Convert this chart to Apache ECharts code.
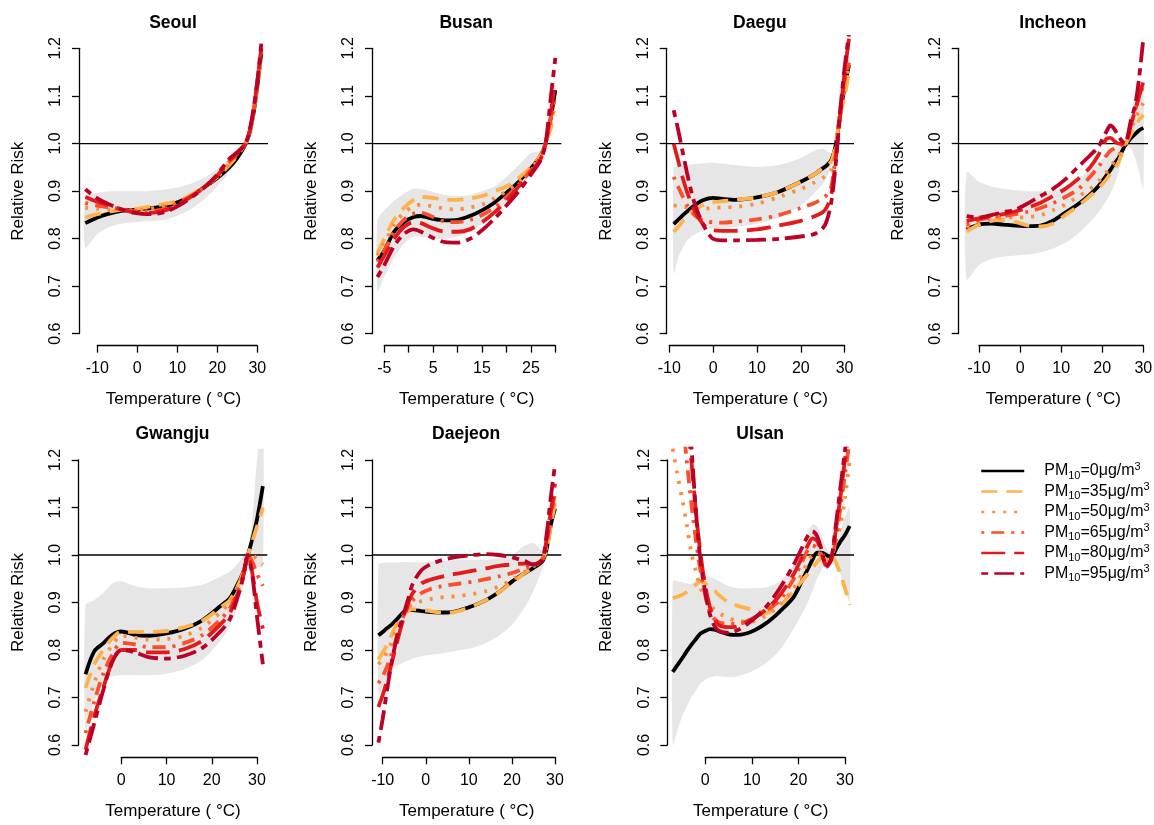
<!DOCTYPE html>
<html><head><meta charset="utf-8">
<script src="https://cdn.jsdelivr.net/npm/echarts@6/dist/echarts.min.js"></script>
<style>html,body{margin:0;padding:0;background:#fff}#c{width:1154px;height:825px}</style>
</head><body><div id="c"></div>
<script>
// ---------------- DATA ----------------
const cities = ['Seoul','Busan','Daegu','Incheon','Gwangju','Daejeon','Ulsan'];
const pmLevels = ['0','35','50','65','80','95'];
const referenceRR = 1;

const seoulTemp = [-13,-10,-7,-4,-1,2,5,8,11,14,17,20,23,25,27,28,29,30,31];
const seoulPM0  = [0.833,0.845,0.853,0.859,0.861,0.863,0.866,0.871,0.880,0.893,0.910,0.928,0.950,0.970,0.998,1.020,1.060,1.120,1.190];
const seoulPM35 = [0.845,0.852,0.857,0.861,0.862,0.866,0.871,0.875,0.882,0.895,0.912,0.930,0.955,0.975,1.000,1.020,1.060,1.120,1.190];
const seoulPM50 = [0.865,0.863,0.862,0.861,0.860,0.862,0.866,0.872,0.880,0.893,0.910,0.930,0.958,0.977,1.000,1.022,1.062,1.125,1.195];
const seoulPM65 = [0.875,0.870,0.866,0.862,0.858,0.858,0.860,0.866,0.878,0.893,0.910,0.932,0.962,0.978,1.000,1.022,1.065,1.128,1.200];
const seoulPM80 = [0.888,0.878,0.870,0.862,0.856,0.854,0.856,0.863,0.876,0.892,0.910,0.933,0.965,0.980,1.000,1.024,1.067,1.130,1.200];
const seoulPM95 = [0.904,0.885,0.872,0.862,0.855,0.852,0.853,0.860,0.873,0.890,0.910,0.935,0.968,0.982,1.000,1.025,1.070,1.130,1.210];
const seoulLow  = [0.782,0.810,0.825,0.832,0.835,0.837,0.838,0.842,0.852,0.866,0.885,0.910,0.940,0.965,0.998,1.015,1.050,1.110,1.180];
const seoulHigh = [0.890,0.897,0.900,0.900,0.900,0.900,0.902,0.905,0.910,0.918,0.930,0.948,0.968,0.982,1.002,1.025,1.070,1.130,1.210];

const busanTemp = [-6.4,-5,-3,-1,1,2.5,5,7.5,10,12.5,15,17.5,20,22.5,25,27,28,29,30];
const busanPM0  = [0.755,0.775,0.815,0.835,0.846,0.848,0.842,0.839,0.840,0.848,0.860,0.876,0.897,0.920,0.948,0.975,1.000,1.050,1.112];
const busanPM35 = [0.770,0.800,0.840,0.865,0.882,0.888,0.886,0.882,0.882,0.885,0.890,0.900,0.910,0.928,0.950,0.975,1.000,1.030,1.060];
const busanPM50 = [0.765,0.790,0.830,0.855,0.868,0.872,0.868,0.863,0.862,0.866,0.872,0.885,0.900,0.920,0.948,0.975,1.000,1.040,1.080];
const busanPM65 = [0.752,0.775,0.815,0.840,0.853,0.855,0.846,0.836,0.835,0.840,0.850,0.866,0.888,0.914,0.944,0.972,1.000,1.050,1.100];
const busanPM80 = [0.740,0.765,0.800,0.825,0.835,0.833,0.822,0.815,0.815,0.820,0.835,0.855,0.880,0.910,0.940,0.968,1.000,1.060,1.130];
const busanPM95 = [0.720,0.745,0.785,0.810,0.820,0.815,0.802,0.793,0.792,0.800,0.818,0.842,0.870,0.900,0.935,0.965,1.000,1.090,1.180];
const busanLow  = [0.690,0.720,0.760,0.790,0.805,0.805,0.800,0.800,0.805,0.815,0.830,0.850,0.875,0.905,0.935,0.962,0.995,1.040,1.090];
const busanHigh = [0.840,0.860,0.880,0.895,0.905,0.905,0.898,0.892,0.890,0.892,0.900,0.910,0.930,0.955,0.980,0.985,1.005,1.060,1.130];

const daeguTemp = [-9,-8,-7,-6,-5,-4,-3,-2,-1,0,2,5,10,15,20,23,25,26,27,28,29,30,31];
const daeguPM0  = [0.831,0.840,0.849,0.857,0.865,0.872,0.878,0.882,0.885,0.886,0.884,0.882,0.887,0.899,0.920,0.935,0.948,0.955,0.966,0.998,1.063,1.119,1.165];
const daeguPM35 = [0.815,0.825,0.837,0.848,0.856,0.863,0.868,0.872,0.875,0.877,0.879,0.882,0.887,0.899,0.920,0.935,0.948,0.955,0.963,1.000,1.060,1.100,1.150];
const daeguPM50 = [0.870,0.870,0.868,0.866,0.865,0.864,0.864,0.864,0.864,0.865,0.866,0.867,0.874,0.888,0.905,0.918,0.928,0.935,0.945,0.990,1.060,1.120,1.170];
const daeguPM65 = [0.930,0.910,0.890,0.872,0.858,0.848,0.842,0.838,0.836,0.835,0.834,0.836,0.841,0.850,0.865,0.875,0.885,0.893,0.910,0.980,1.070,1.130,1.170];
const daeguPM80 = [1.000,0.965,0.930,0.900,0.875,0.855,0.840,0.828,0.821,0.818,0.817,0.817,0.820,0.828,0.838,0.847,0.856,0.868,0.895,0.970,1.060,1.150,1.220];
const daeguPM95 = [1.070,1.030,0.985,0.940,0.900,0.868,0.845,0.825,0.810,0.800,0.797,0.797,0.798,0.800,0.805,0.810,0.822,0.840,0.880,0.960,1.070,1.160,1.230];
const daeguLow  = [0.727,0.760,0.780,0.795,0.805,0.810,0.815,0.818,0.820,0.822,0.823,0.825,0.832,0.845,0.870,0.895,0.915,0.930,0.955,0.995,1.050,1.090,1.130];
const daeguHigh = [0.950,0.952,0.953,0.955,0.956,0.957,0.958,0.959,0.960,0.960,0.958,0.955,0.951,0.955,0.970,0.985,0.990,0.985,0.980,1.005,1.070,1.140,1.200];

const incheonTemp = [-13,-10,-7,-4,-1,2,5,8,11,14,17,19,21,22,23,24,25.5,27,28,29,30];
const incheonPM0  = [0.820,0.830,0.832,0.830,0.828,0.827,0.828,0.838,0.855,0.872,0.893,0.910,0.933,0.945,0.958,0.970,0.995,1.012,1.020,1.028,1.033];
const incheonPM35 = [0.815,0.830,0.838,0.840,0.835,0.828,0.826,0.832,0.850,0.868,0.890,0.905,0.925,0.937,0.948,0.962,0.995,1.020,1.035,1.050,1.060];
const incheonPM50 = [0.825,0.836,0.842,0.845,0.845,0.846,0.850,0.860,0.872,0.888,0.905,0.920,0.940,0.952,0.963,0.975,0.998,1.030,1.050,1.070,1.085];
const incheonPM65 = [0.830,0.840,0.845,0.848,0.852,0.857,0.865,0.875,0.888,0.903,0.930,0.950,0.975,0.985,0.990,0.995,1.000,1.040,1.070,1.100,1.120];
const incheonPM80 = [0.838,0.843,0.848,0.852,0.858,0.866,0.876,0.890,0.905,0.925,0.950,0.975,1.010,1.012,1.005,1.000,1.000,1.040,1.070,1.100,1.130];
const incheonPM95 = [0.848,0.845,0.850,0.856,0.862,0.875,0.890,0.905,0.925,0.950,0.975,0.993,1.025,1.038,1.030,1.015,1.000,1.050,1.080,1.140,1.220];
const incheonLow  = [0.715,0.745,0.758,0.763,0.765,0.767,0.772,0.780,0.792,0.810,0.835,0.855,0.880,0.895,0.915,0.940,0.995,0.990,0.970,0.940,0.905];
const incheonHigh = [0.940,0.920,0.910,0.905,0.902,0.900,0.900,0.902,0.910,0.925,0.945,0.960,0.975,0.983,0.990,0.995,1.005,1.040,1.070,1.100,1.120];

const gwangjuTemp = [-7.9,-6,-4,-2,0,3,6,10,14,18,22,24,26,27,28,29,30,31.3];
const gwangjuPM0  = [0.749,0.797,0.814,0.832,0.839,0.832,0.830,0.835,0.845,0.863,0.893,0.909,0.944,0.965,1.000,1.035,1.075,1.145];
const gwangjuPM35 = [0.720,0.770,0.800,0.825,0.838,0.838,0.838,0.840,0.848,0.862,0.890,0.905,0.940,0.965,1.000,1.030,1.060,1.100];
const gwangjuPM50 = [0.670,0.730,0.780,0.810,0.830,0.826,0.822,0.823,0.830,0.848,0.880,0.900,0.940,0.965,1.000,1.000,0.990,0.980];
const gwangjuPM65 = [0.625,0.690,0.750,0.790,0.815,0.812,0.806,0.806,0.815,0.832,0.865,0.888,0.930,0.960,1.000,0.985,0.960,0.935];
const gwangjuPM80 = [0.590,0.660,0.720,0.775,0.800,0.800,0.795,0.795,0.802,0.820,0.855,0.878,0.925,0.957,1.000,0.960,0.900,0.845];
const gwangjuPM95 = [0.579,0.645,0.715,0.775,0.800,0.795,0.785,0.782,0.788,0.805,0.840,0.865,0.920,0.955,1.000,0.955,0.870,0.770];
const gwangjuLow  = [0.630,0.690,0.735,0.745,0.747,0.747,0.747,0.750,0.760,0.780,0.820,0.850,0.900,0.935,0.985,0.975,0.975,0.975];
const gwangjuHigh = [0.895,0.905,0.920,0.940,0.945,0.935,0.930,0.930,0.932,0.938,0.955,0.965,0.985,1.000,1.015,1.080,1.200,1.300];

const daejeonTemp = [-11,-10,-9,-8,-7,-6,-5,-4,-3,-1,1,3,5,8,11,14,17,20,23,25,27,28,29,30];
const daejeonPM0  = [0.831,0.838,0.846,0.853,0.862,0.872,0.881,0.884,0.884,0.882,0.880,0.879,0.879,0.884,0.893,0.905,0.922,0.944,0.962,0.973,0.986,1.010,1.063,1.098];
const daejeonPM35 = [0.780,0.795,0.810,0.830,0.850,0.865,0.876,0.883,0.886,0.884,0.882,0.879,0.878,0.883,0.893,0.905,0.922,0.942,0.962,0.975,0.990,1.010,1.060,1.110];
const daejeonPM50 = [0.770,0.780,0.795,0.815,0.840,0.862,0.878,0.890,0.897,0.903,0.907,0.910,0.912,0.914,0.918,0.924,0.934,0.948,0.965,0.976,0.990,1.015,1.070,1.120];
const daejeonPM65 = [0.730,0.745,0.765,0.790,0.820,0.850,0.875,0.893,0.905,0.920,0.928,0.933,0.936,0.940,0.944,0.949,0.955,0.962,0.972,0.978,0.990,1.020,1.080,1.130];
const daejeonPM80 = [0.680,0.705,0.735,0.770,0.805,0.840,0.872,0.900,0.920,0.940,0.948,0.953,0.957,0.962,0.967,0.972,0.977,0.980,0.982,0.980,0.990,1.030,1.090,1.150];
const daejeonPM95 = [0.605,0.655,0.715,0.770,0.815,0.850,0.880,0.910,0.940,0.968,0.980,0.987,0.992,0.997,1.000,1.002,1.000,0.995,0.987,0.980,0.990,1.040,1.120,1.190];
const daejeonLow  = [0.705,0.720,0.740,0.755,0.765,0.770,0.775,0.778,0.782,0.787,0.790,0.792,0.795,0.800,0.805,0.815,0.830,0.853,0.890,0.925,0.970,0.995,1.040,1.080];
const daejeonHigh = [0.980,0.983,0.984,0.984,0.984,0.985,0.985,0.985,0.985,0.985,0.986,0.987,0.988,0.990,0.990,0.990,0.993,1.000,1.020,1.025,1.010,1.020,1.060,1.100];

const ulsanTemp = [-7,-6,-5,-4,-3,-2,-1,0,1,2,3,5,7,10,13,16,19,21,22,23,24,25,26,27,28,29,30,31];
const ulsanPM0  = [0.754,0.768,0.782,0.797,0.811,0.823,0.835,0.840,0.844,0.843,0.839,0.833,0.832,0.839,0.856,0.881,0.912,0.951,0.970,0.990,1.005,1.005,1.000,0.993,1.011,1.028,1.042,1.061];
const ulsanPM35 = [0.909,0.912,0.916,0.922,0.930,0.938,0.945,0.940,0.932,0.925,0.915,0.900,0.893,0.885,0.878,0.893,0.925,0.948,0.960,0.973,0.985,0.995,1.000,1.000,0.985,0.960,0.930,0.895];
const ulsanPM50 = [1.224,1.170,1.120,1.065,1.005,0.965,0.930,0.910,0.895,0.885,0.877,0.868,0.860,0.860,0.872,0.895,0.930,0.965,0.985,1.000,1.005,1.000,0.990,0.993,1.030,1.060,1.120,1.200];
const ulsanPM65 = [1.450,1.380,1.300,1.200,1.110,1.030,0.965,0.915,0.880,0.865,0.858,0.855,0.855,0.865,0.882,0.905,0.950,0.990,1.010,1.020,1.015,1.000,0.980,0.988,1.030,1.100,1.170,1.240];
const ulsanPM80 = [1.550,1.470,1.390,1.300,1.200,1.090,1.000,0.935,0.890,0.865,0.852,0.848,0.850,0.865,0.885,0.915,0.960,1.000,1.020,1.035,1.030,1.005,0.978,0.990,1.050,1.120,1.200,1.260];
const ulsanPM95 = [1.700,1.600,1.500,1.350,1.230,1.090,0.985,0.920,0.875,0.850,0.840,0.836,0.842,0.862,0.890,0.930,0.980,1.020,1.040,1.050,1.040,1.010,0.975,0.990,1.060,1.140,1.220,1.300];
const ulsanLow  = [0.600,0.630,0.660,0.680,0.700,0.715,0.730,0.738,0.742,0.745,0.745,0.743,0.745,0.755,0.772,0.800,0.845,0.880,0.900,0.925,0.950,0.970,0.985,0.990,0.980,0.960,0.930,0.900];
const ulsanHigh = [0.945,0.945,0.943,0.940,0.940,0.945,0.950,0.955,0.955,0.950,0.945,0.935,0.930,0.930,0.932,0.945,0.980,1.020,1.045,1.065,1.060,1.040,1.015,1.005,1.020,1.050,1.080,1.100];

const yTickMin = 0.6, yTickMax = 1.2, yTickStep = 0.1;

// ---------------- ASSEMBLY ----------------
const panels = [
  {temp: seoulTemp,   curves: [seoulPM0,seoulPM35,seoulPM50,seoulPM65,seoulPM80,seoulPM95], low: seoulLow, high: seoulHigh},
  {temp: busanTemp,   curves: [busanPM0,busanPM35,busanPM50,busanPM65,busanPM80,busanPM95], low: busanLow, high: busanHigh},
  {temp: daeguTemp,   curves: [daeguPM0,daeguPM35,daeguPM50,daeguPM65,daeguPM80,daeguPM95], low: daeguLow, high: daeguHigh},
  {temp: incheonTemp, curves: [incheonPM0,incheonPM35,incheonPM50,incheonPM65,incheonPM80,incheonPM95], low: incheonLow, high: incheonHigh},
  {temp: gwangjuTemp, curves: [gwangjuPM0,gwangjuPM35,gwangjuPM50,gwangjuPM65,gwangjuPM80,gwangjuPM95], low: gwangjuLow, high: gwangjuHigh},
  {temp: daejeonTemp, curves: [daejeonPM0,daejeonPM35,daejeonPM50,daejeonPM65,daejeonPM80,daejeonPM95], low: daejeonLow, high: daejeonHigh},
  {temp: ulsanTemp,   curves: [ulsanPM0,ulsanPM35,ulsanPM50,ulsanPM65,ulsanPM80,ulsanPM95], low: ulsanLow, high: ulsanHigh}
];

// layout (pixels) and axis ranges
const rows = [
  {plotTop: 36.9, plotH: 308.7, tickTop: 48.3, tickH: 285.4, xOff: 11.9, titleY: 23.5, nameGap: 45},
  {plotTop: 448.6, plotH: 307.8, tickTop: 460, tickH: 285, xOff: 12.3, titleY: 434.5, nameGap: 46.5}
];
const layout = [
  {row:0, L:79,    W:189,   k:4.0,   t0:97.3,  tmin:-10, tmax:30, step:10},
  {row:0, L:372,   W:189.3, k:4.886, t0:384.3, tmin:-5,  tmax:30, step:5, skip:true},
  {row:0, L:666.7, W:187.3, k:4.383, t0:669.3, tmin:-10, tmax:30, step:10},
  {row:0, L:958.7, W:189.3, k:4.108, t0:979,   tmin:-10, tmax:30, step:10},
  {row:1, L:78.7,  W:188.6, k:4.523, t0:121.3, tmin:0,   tmax:30, step:10},
  {row:1, L:372,   W:189.3, k:4.308, t0:382.7, tmin:-10, tmax:30, step:10},
  {row:1, L:667.3, W:186.7, k:4.656, t0:705.3, tmin:0,   tmax:30, step:10}
];

const FONT = '"Liberation Sans", Arial, Helvetica, sans-serif';
const COLORS = ['#000000','#FEB24C','#FD8D3C','#FC4E2A','#E31A1C','#BD0026'];
const DASHES = ['solid',[16,9],[3,8],[3,7,13,7],[24,9],[7,6,20,6]];
const NAMES = pmLevels.map(v => 'PM10=' + v + 'μg/m3');

const grids = [], xAxes = [], yAxes = [], series = [], graphics = [];
const yMinPlot = yTickMin - 0.04*(yTickMax - yTickMin);
const yMaxPlot = yTickMax + 0.04*(yTickMax - yTickMin);

panels.forEach((p, i) => {
  const g = layout[i], r = rows[g.row];
  const tickW = (g.tmax - g.tmin) * g.k;
  const xmin = g.tmin - (g.t0 - g.L) / g.k;
  const xmax = g.tmin + (g.L + g.W - g.t0) / g.k;
  grids.push({left: g.L, top: r.plotTop, width: g.W, height: r.plotH, outerBoundsMode: 'none', containLabel: false});
  grids.push({left: g.t0, top: r.tickTop, width: tickW, height: r.tickH, outerBoundsMode: 'none', containLabel: false});
  const a = 2*i, b = 2*i+1;
  xAxes.push({type:'value', gridIndex:a, min:xmin, max:xmax,
    axisLine:{show:false}, axisTick:{show:false}, axisLabel:{show:false}, splitLine:{show:false},
    name:'Temperature ( °C)', nameLocation:'middle', nameGap:r.nameGap,
    nameTextStyle:{fontSize:17, color:'#000', fontFamily:FONT}});
  xAxes.push({type:'value', gridIndex:b, min:g.tmin, max:g.tmax, interval:g.step, offset:r.xOff,
    axisLine:{show:true, onZero:false, lineStyle:{color:'#000', width:1.3}},
    axisTick:{show:true, length:7, lineStyle:{color:'#000', width:1.3}},
    splitLine:{show:false},
    axisLabel:{margin:15, fontSize:16, color:'#000', fontFamily:FONT,
      formatter: v => (g.skip ? (((v - g.tmin) % 10 === 0) ? String(v) : '') : String(v))}});
  yAxes.push({type:'value', gridIndex:a, min:yMinPlot, max:yMaxPlot,
    axisLine:{show:false}, axisTick:{show:false}, axisLabel:{show:false}, splitLine:{show:false},
    name:'Relative Risk', nameLocation:'middle', nameGap:52, nameRotate:90,
    nameTextStyle:{fontSize:17, color:'#000', fontFamily:FONT}});
  yAxes.push({type:'value', gridIndex:b, min:yTickMin, max:yTickMax, interval:yTickStep, offset:g.t0 - g.L,
    axisLine:{show:true, onZero:false, lineStyle:{color:'#000', width:1.3}},
    axisTick:{show:true, length:7, lineStyle:{color:'#000', width:1.3}},
    splitLine:{show:false},
    axisLabel:{rotate:90, margin:15, fontSize:16, color:'#000', fontFamily:FONT, formatter: v => v.toFixed(1)}});

  // confidence band as a polygon through the axis scales
  series.push({type:'custom', xAxisIndex:a, yAxisIndex:a, silent:true, z:1, clip:true,
    data: p.temp.map((t,j) => [t, p.low[j], p.high[j]]),
    renderItem: (params, api) => {
      if (params.dataIndex !== 0) return null;
      const pts = [];
      for (let j = 0; j < p.temp.length; j++) pts.push(api.coord([p.temp[j], p.high[j]]));
      for (let j = p.temp.length - 1; j >= 0; j--) pts.push(api.coord([p.temp[j], p.low[j]]));
      const cs = params.coordSys;
      return {type:'polygon', shape:{points: pts, smooth: 0.25}, style:{fill:'#E6E6E6'},
        clipPath:{type:'rect', shape:{x: cs.x, y: cs.y, width: cs.width, height: cs.height}}};
    }});
  // reference line RR = 1 across the plot region
  series.push({type:'line', xAxisIndex:a, yAxisIndex:a, silent:true, symbol:'none', z:2,
    data: [[xmin, referenceRR], [xmax, referenceRR]],
    lineStyle:{color:'#000', width:1.3}});
  // curves
  p.curves.forEach((c, k) => {
    series.push({type:'line', name:NAMES[k], xAxisIndex:a, yAxisIndex:a, symbol:'none', showSymbol:false,
      smooth:0.3, silent:true, z:3,
      data: p.temp.map((t,j) => [t, c[j]]),
      lineStyle:{color:COLORS[k], width:3.8, type:DASHES[k], cap:'butt'},
      itemStyle:{color:COLORS[k]}});
  });
  graphics.push({type:'text', x: g.L + g.W/2 - 0.5, y: r.titleY,
    style:{text: cities[i], fontSize:17.5, fontWeight:'bold', fontFamily:FONT, fill:'#000', align:'center', verticalAlign:'middle'}});
});

const chart = echarts.init(document.getElementById('c'), null, {renderer:'canvas'});
chart.setOption({
  animation:false,
  backgroundColor:'#fff',
  grid: grids, xAxis: xAxes, yAxis: yAxes, series: series,
  graphic: graphics,
  legend: {
    data: NAMES, orient:'vertical', left:980, top:461, padding:0,
    itemWidth:43, itemHeight:20, itemGap:0.5, selectedMode:false,
    lineStyle:{width:2.5},
    itemStyle:{opacity:0, borderWidth:0},
    formatter: name => {
      const v = name.replace('PM10=','').replace('μg/m3','');
      return '{pm|PM}{sub|10}{t|=' + v + 'μg/m}{sup|3}';
    },
    textStyle:{color:'#000', fontFamily:FONT, fontSize:16,
      rich:{
        pm:{fontSize:16, fontFamily:FONT, color:'#000', padding:[0,0,0,15], lineHeight:20},
        t:{fontSize:16, fontFamily:FONT, color:'#000', lineHeight:20},
        sub:{fontSize:11, fontFamily:FONT, color:'#000', verticalAlign:'bottom', lineHeight:11},
        sup:{fontSize:11, fontFamily:FONT, color:'#000', verticalAlign:'top', lineHeight:11}
      }}
  }
});
</script>
</body></html>
